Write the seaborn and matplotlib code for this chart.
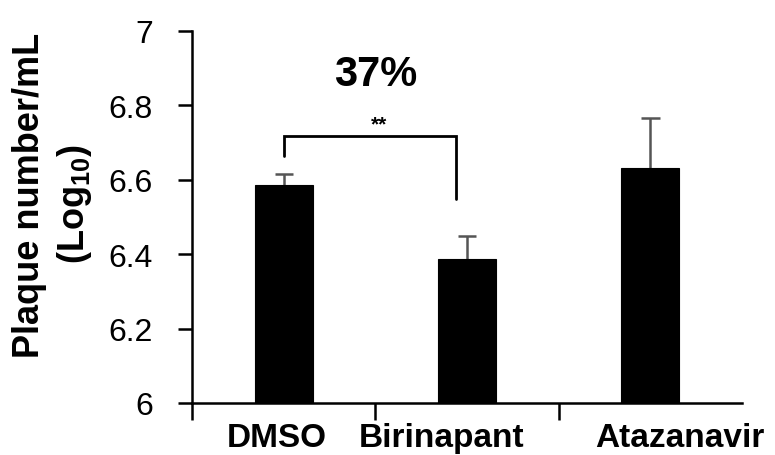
import matplotlib
matplotlib.use("Agg")
import matplotlib.pyplot as plt
import seaborn as sns
import numpy as np
import pandas as pd

# ---- data ----
categories = ["DMSO", "Birinapant", "Atazanavir"]
means = [6.586, 6.387, 6.632]
errors = [0.029, 0.062, 0.134]
y_ticks = [6, 6.2, 6.4, 6.6, 6.8, 7]
y_tick_labels = ["6", "6.2", "6.4", "6.6", "6.8", "7"]
bracket_left_y = [6.664, 6.718]
bracket_right_y = [6.718, 6.548]
sig_label = "**"
pct_label = "37%"
ylabel_line1 = "Plaque number/mL"
ylabel_line2 = "(Log$_{\\mathbf{10}}$)"

# label horizontal offsets (style: labels not centred under bars in original)
label_offsets = [-0.04, -0.14, 0.16]

sns.set_style("white")
plt.rcParams["font.family"] = ["Liberation Sans", "DejaVu Sans"]
plt.rcParams["mathtext.fontset"] = "custom"
plt.rcParams["mathtext.rm"] = "Liberation Sans"
plt.rcParams["mathtext.bf"] = "Liberation Sans:bold"
for k in ["text.color", "axes.labelcolor", "xtick.color", "ytick.color"]:
    plt.rcParams[k] = "black"

df = pd.DataFrame({"cat": categories, "val": means})

fig = plt.figure(figsize=(7.75, 4.56), dpi=100)
ax = fig.add_axes([192 / 775, 1 - 404 / 456, 550 / 775, 372 / 456])

sns.barplot(data=df, x="cat", y="val", ax=ax, color="black", width=0.315,
            errorbar=None, saturation=1, edgecolor="black", linewidth=0.8, zorder=2)
x = np.arange(len(categories))
tops = np.array(means) + np.array(errors)
ax.vlines(x, means, tops, color="#555555", lw=1.8, zorder=1)
ax.hlines(tops, x - 0.05, x + 0.05, color="#555555", lw=1.8, zorder=1)

ax.set_ylim(6, 7)
ax.set_xlim(-0.5, 2.5)
ax.set_yticks(y_ticks)
ax.set_yticklabels(y_tick_labels, fontsize=23)
ax.set_xticks([-0.5, 0.5, 1.5])
ax.set_xticklabels([])
ax.tick_params(axis="y", direction="out", length=10, width=1.8, pad=18, colors="black", left=True)
ax.tick_params(axis="x", direction="out", length=12, width=1.8, bottom=True)
ax.set_xlabel("")
ax.set_ylabel("")

for s in ["top", "right"]:
    ax.spines[s].set_visible(False)
for s in ["left", "bottom"]:
    ax.spines[s].set_color("black")
    ax.spines[s].set_linewidth(1.8)

for i, c in enumerate(categories):
    ax.annotate(c, xy=(x[i] + label_offsets[i], 0), xycoords=("data", "axes fraction"),
                xytext=(0, -14), textcoords="offset points", ha="center", va="top",
                fontsize=24, fontweight="bold", annotation_clip=False)

# y label as two centred rotated lines
fig.text(30 / 775, 1 - 195 / 456, ylabel_line1, rotation=90, ha="center", va="center",
         fontsize=26, fontweight="bold")
fig.text(75 / 775, 1 - 204 / 456, ylabel_line2, rotation=90, ha="center", va="center",
         fontsize=26, fontweight="bold")

# significance bracket
xl, xr = x[0], x[1] - 0.06
ax.plot([xl, xl, xr, xr], [bracket_left_y[0], bracket_left_y[1], bracket_right_y[0], bracket_right_y[1]],
        color="black", lw=2, solid_joinstyle="miter")
ax.text(0.52, 6.725, sig_label, ha="center", va="bottom", fontsize=15, fontweight="bold")
ax.text(0.50, 6.885, pct_label, ha="center", va="center", fontsize=30, fontweight="bold")

fig.savefig("out.png", dpi=100)
